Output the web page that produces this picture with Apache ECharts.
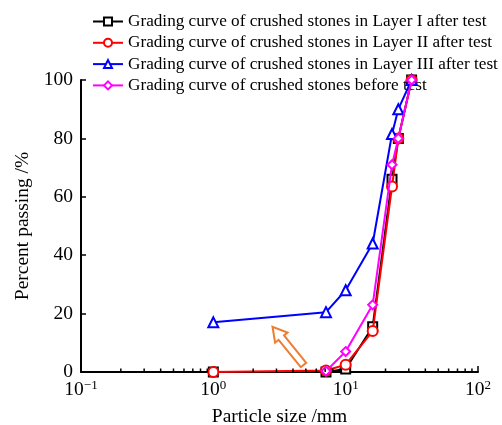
<!DOCTYPE html>
<html><head><meta charset="utf-8">
<script src="https://cdn.jsdelivr.net/npm/echarts@6/dist/echarts.min.js"></script>
<style>html,body{margin:0;padding:0;background:#fff}#c{width:502px;height:425px}</style>
</head><body><div id="c"></div>
<script>
const seriesNames = [
  'Grading curve of crushed stones in Layer I after test',
  'Grading curve of crushed stones in Layer II after test',
  'Grading curve of crushed stones in Layer III after test',
  'Grading curve of crushed stones before test'
];
const sizesAfter = [1, 7.1, 10, 16, 22.4, 25, 31.5];
const sizesBefore = [7.1, 10, 16, 22.4, 25, 31.5];
const layer1 = [0, 0, 1, 15.5, 66, 80, 100];
const layer2 = [0, 0.5, 2.5, 14, 63.5, 80, 100];
const layer3 = [17, 20.5, 28, 44, 81.5, 90, 100];
const before = [0.3, 7, 23, 71, 80, 100];
const yTicks = [0, 20, 40, 60, 80, 100];

const FONT = 'Liberation Serif, Times New Roman, serif';
const colors = ['#000000', '#ff0000', '#0000ff', '#ff00ff'];
const symbols = ['emptyRect', 'emptyCircle', 'emptyTriangle', 'emptyDiamond'];
const symSizes = [9, 10, 10, 9];
const pair = (xs, ys) => xs.map((x, i) => [x, ys[i]]);
const datas = [pair(sizesAfter, layer1), pair(sizesAfter, layer2), pair(sizesAfter, layer3), pair(sizesBefore, before)];

const chart = echarts.init(document.getElementById('c'), null, {renderer: 'canvas'});
const sup = {'-1': '−1', '0': '0', '1': '1', '2': '2'};
chart.setOption({
  animation: false,
  backgroundColor: '#fff',
  textStyle: {fontFamily: FONT},
  legend: {
    orient: 'vertical', left: 87, top: 8, itemGap: 4.3, itemWidth: 30, itemHeight: 10,
    textStyle: {fontFamily: FONT, fontSize: 17.2, color: '#000'},
    data: seriesNames
  },
  grid: {left: 81, right: 24, top: 80, bottom: 53, containLabel: false, outerBoundsMode: 'none'},
  xAxis: {
    type: 'log', logBase: 10, min: 0.1, max: 100,
    name: 'Particle size /mm', nameLocation: 'middle', nameGap: 35,
    nameTextStyle: {fontFamily: FONT, fontSize: 19.5, color: '#000'},
    axisLine: {lineStyle: {color: '#000', width: 2}},
    axisTick: {inside: true, length: 6, lineStyle: {color: '#000', width: 1.5}},
    splitLine: {show: false},
    axisLabel: {
      margin: 7, color: '#000',
      formatter: v => { const e = Math.round(Math.log10(v)); return '{b|10}{s|' + sup[String(e)] + '}'; },
      rich: {
        b: {fontFamily: FONT, fontSize: 19.5, color: '#000'},
        s: {fontFamily: FONT, fontSize: 13, color: '#000', padding: [0, 0, 9, 0]}
      }
    }
  },
  yAxis: {
    type: 'value', min: 0, max: 100, interval: 20,
    name: 'Percent passing /%', nameLocation: 'middle', nameGap: 43,
    nameTextStyle: {fontFamily: FONT, fontSize: 19.5, color: '#000'},
    axisLine: {show: true, lineStyle: {color: '#000', width: 2}},
    axisTick: {show: true, inside: true, length: 5, lineStyle: {color: '#000', width: 1.5}},
    splitLine: {show: false},
    axisLabel: {fontFamily: FONT, fontSize: 19.5, color: '#000', margin: 8}
  },
  series: seriesNames.map((n, i) => ({
    name: n, type: 'line', data: datas[i],
    symbol: symbols[i], symbolSize: symSizes[i],
    lineStyle: {color: colors[i], width: 2},
    itemStyle: {color: colors[i], borderWidth: 2},
    z: 2 + i
  }))
});

// minor ticks on log x axis and orange hollow arrow annotation
const g = [];
const y0 = chart.convertToPixel({yAxisIndex: 0}, 0);
for (let d = -1; d < 2; d++) {
  for (let k = 2; k <= 9; k++) {
    const px = chart.convertToPixel({xAxisIndex: 0}, k * Math.pow(10, d));
    g.push({type: 'line', shape: {x1: px, y1: y0, x2: px, y2: y0 - 3.5}, style: {stroke: '#000', lineWidth: 1.5}, z: 10});
  }
}
const tail = chart.convertToPixel({xAxisIndex: 0, yAxisIndex: 0}, [4.8, 2.4]);
const tip = chart.convertToPixel({xAxisIndex: 0, yAxisIndex: 0}, [2.8, 15.5]);
const dx = tip[0] - tail[0], dy = tip[1] - tail[1];
const L = Math.hypot(dx, dy), ux = dx / L, uy = dy / L, nx = -uy, ny = ux;
const hl = 14, hw = 8, sw = 3.5;
const P = (a, b) => [tail[0] + ux * a + nx * b, tail[1] + uy * a + ny * b];
g.push({
  type: 'polygon', z: 10,
  shape: {points: [P(0, sw), P(L - hl, sw), P(L - hl, hw), P(L, 0), P(L - hl, -hw), P(L - hl, -sw), P(0, -sw)]},
  style: {fill: '#fff', stroke: '#ED7D31', lineWidth: 2}
});
chart.setOption({graphic: g});
</script>
</body></html>
